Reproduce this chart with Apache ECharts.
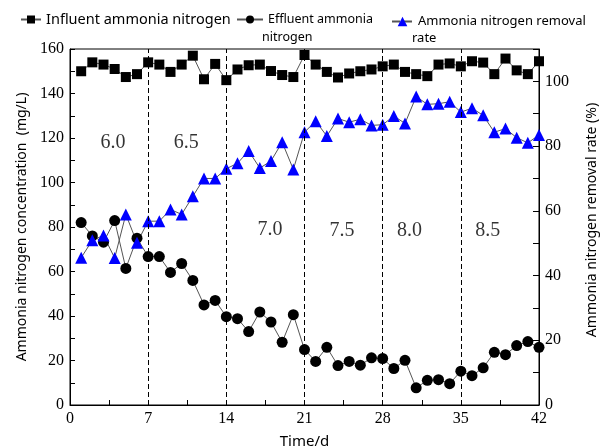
<!DOCTYPE html>
<html><head><meta charset="utf-8">
<script src="https://cdn.jsdelivr.net/npm/echarts@6/dist/echarts.min.js"></script>
<style>html,body{margin:0;padding:0;background:#fff}#c{width:603px;height:448px}</style>
</head><body><div id="c"></div><script>
const days = [];
for (let d = 1; d <= 42; d++) days.push(d);
const influent = [150,154,153,151,147.4,148.7,154,153,149.7,153,157,146.4,153.3,146,150.8,152.7,153,150.1,148.3,147.4,157.3,
  153,149.7,147.2,149,150,150.8,152.2,153,149.7,148.7,147.8,153,153.5,152.2,154.5,153.9,148.7,155.7,150.4,148.7,154.5];
const effluent = [82,76,73.2,82.9,61.4,75,66.7,66.7,59.6,63.6,56,45,47,39.7,38.8,33,41.8,37.3,28.2,40.6,24.9,
  19.6,25.9,17.7,19.6,17.9,21.2,20.9,16.4,20.1,7.7,11.1,11.4,9.6,15.2,13.2,16.7,23.7,22.6,26.7,28.5,25.9];
const removal = [45.5,50.9,52.4,45.4,58.9,50.1,56.8,56.8,60.4,58.9,64.5,70,70,73,74.7,78.5,73.2,75.4,81.2,72.8,84.3,
  87.7,83.1,88.5,87.4,88.3,86.4,86.6,89.3,87,95.3,92.9,93.1,93.7,90.5,91.7,89.5,84.3,85.4,82.6,81,83.4];
const phaseLines = [7,14,21,28,35];
const phLabels = ['6.0','6.5','7.0','7.5','8.0','8.5'];
const phLabelX = [3.85,10.4,17.9,24.35,30.4,37.4];
const phLabelY = [118,118,78.6,78.2,78.2,78.2];

const serif = 'Liberation Serif';
const sans = 'Noto Sans';
const chart = echarts.init(document.getElementById('c'));
const pair = a => days.map((d, i) => [d, a[i]]);
const lineSty = {color: '#555', width: 1};
chart.setOption({
  animation: false,
  backgroundColor: '#fff',
  grid: {left: 70, right: 64, top: 49, bottom: 43, outerBoundsMode: 'none', containLabel: false,
    show: true, borderColor: '#000', borderWidth: 1, backgroundColor: 'transparent'},
  legend: [
    {left: 15, top: 7, itemWidth: 20, itemHeight: 10, data: ['Influent ammonia nitrogen'],
     textStyle: {fontFamily: sans, fontSize: 14.5, color: '#000'}},
    {left: 231, top: 8, itemWidth: 26, itemHeight: 10, data: ['Effluent ammonia nitrogen'],
     formatter: () => 'Effluent ammonia',
     textStyle: {fontFamily: sans, fontSize: 12.5, color: '#000'}},
    {left: 386, top: 10, itemWidth: 21, itemHeight: 12, data: ['Ammonia nitrogen removal rate'],
     formatter: () => 'Ammonia nitrogen removal',
     lineStyle: {type: 'dashed'},
     textStyle: {fontFamily: sans, fontSize: 13, color: '#000'}}
  ],
  graphic: [
    {type: 'text', left: 262, top: 31, style: {text: 'nitrogen', font: '12.5px "Noto Sans"', fill: '#000'}},
    {type: 'text', left: 412, top: 32, style: {text: 'rate', font: '13px "Noto Sans"', fill: '#000'}}
  ],
  xAxis: {
    type: 'value', min: 0, max: 42, interval: 7,
    name: 'Time/d', nameLocation: 'middle', nameGap: 29,
    nameTextStyle: {fontFamily: sans, fontSize: 15, color: '#000'},
    axisLine: {lineStyle: {color: '#000', width: 1}},
    axisTick: {inside: true, length: 5, lineStyle: {color: '#000'}},
    minorTick: {show: true, splitNumber: 2, length: 5, lineStyle: {color: '#000'}},
    splitLine: {show: false},
    axisLabel: {fontFamily: serif, fontSize: 16, color: '#000', margin: 6}
  },
  yAxis: [
    {type: 'value', min: 0, max: 160, interval: 20,
     name: 'Ammonia nitrogen concentration  (mg/L)', nameLocation: 'middle', nameGap: 40,
     nameTextStyle: {fontFamily: sans, fontSize: 14, color: '#000'},
     axisLine: {show: true, lineStyle: {color: '#000', width: 1}},
     axisTick: {show: true, inside: true, length: 5, lineStyle: {color: '#000'}},
     minorTick: {show: true, splitNumber: 2, length: 5, lineStyle: {color: '#000'}},
     splitLine: {show: false},
     axisLabel: {fontFamily: serif, fontSize: 16, color: '#000', margin: 6}},
    {type: 'value', min: 0, max: 110, interval: 20, position: 'right',
     name: 'Ammonia nitrogen removal rate (%)', nameLocation: 'middle', nameGap: 46, nameRotate: 90,
     nameTextStyle: {fontFamily: sans, fontSize: 14, color: '#000', padding: [0, 0, 0, 14]},
     axisLine: {show: true, lineStyle: {color: '#000', width: 1}},
     axisTick: {show: true, inside: true, length: 6, lineStyle: {color: '#000'}},
     minorTick: {show: true, splitNumber: 2, length: 6, lineStyle: {color: '#000'}},
     splitLine: {show: false},
     axisLabel: {fontFamily: serif, fontSize: 16, color: '#000', margin: 6, showMaxLabel: false}}
  ],
  series: [
    {name: 'Influent ammonia nitrogen', type: 'line', data: pair(influent), yAxisIndex: 0,
     symbol: 'rect', symbolSize: 10, itemStyle: {color: '#000'}, lineStyle: lineSty,
     markLine: {silent: true, symbol: 'none', label: {show: false},
       lineStyle: {color: '#000', type: [5, 3], width: 1},
       data: phaseLines.map(x => ({xAxis: x}))}},
    {name: 'Effluent ammonia nitrogen', type: 'line', data: pair(effluent), yAxisIndex: 0,
     symbol: 'circle', symbolSize: 11, itemStyle: {color: '#000'}, lineStyle: lineSty},
    {name: 'Ammonia nitrogen removal rate', type: 'line', data: pair(removal), yAxisIndex: 1,
     symbol: 'triangle', symbolSize: 12, itemStyle: {color: '#0000ff'}, lineStyle: lineSty},
    {name: 'pH', type: 'scatter', yAxisIndex: 0, symbolSize: 0, silent: true,
     data: phLabels.map((t, i) => [phLabelX[i], phLabelY[i], t]),
     label: {show: true, position: 'inside', formatter: p => p.data[2],
       fontFamily: serif, fontSize: 20, color: '#000'}}
  ]
});
</script></body></html>
